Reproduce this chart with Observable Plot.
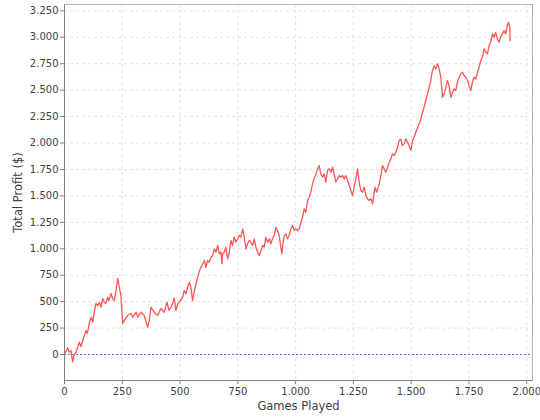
<!DOCTYPE html>
<html>
<head>
<meta charset="utf-8">
<script src="https://cdn.jsdelivr.net/npm/d3@7"></script>
<script src="https://cdn.jsdelivr.net/npm/@observablehq/plot@0.6"></script>
<style>
  html, body { margin: 0; padding: 0; background: #fff; }
  #chart { width: 540px; height: 420px; }
</style>
</head>
<body>
<div id="chart"></div>
<script>
const games = [0,14,20,28,35,41,50,58,64,71,79,84,93,99,107,115,122,129,136,144,151,158,165,172,179,187,192,201,208,215,223,230,237,244,247,252,259,273,288,295,310,317,331,345,360,367,374,388,403,417,
432,443,453,468,475,482,490,501,511,518,525,533,540,547,554,561,569,576,587,598,605,612,619,626,634,641,648,655,663,670,677,681,684,691,698,706,713,720,727,734,742,749,756,763,771,778,785,792,799,807,
814,821,828,836,843,850,857,864,871,879,886,893,900,907,915,922,929,936,941,944,951,958,965,972,980,987,994,1001,1009,1016,1023,1030,1037,1044,1052,1059,1066,1073,1080,1088,1095,1102,1109,1117,1124,1131,1138,1145,1153,1160,1167,1174,1181,1189,1196,
1203,1210,1217,1225,1232,1239,1246,1253,1261,1268,1275,1282,1290,1297,1304,1311,1318,1326,1333,1340,1344,1351,1362,1369,1376,1383,1390,1398,1405,1412,1419,1426,1434,1441,1448,1455,1462,1470,1477,1484,1491,1499,
1506,1513,1520,1528,1535,1542,1549,1556,1563,1571,1578,1585,1588,1592,1599,1607,1614,1621,1628,1636,1643,1650,1657,1664,1672,1679,1686,1693,1700,1708,1715,1722,1729,1736,1744,1751,1758,1765,1772,1780,1787,1794,
1801,1808,1816,1823,1830,1837,1844,1852,1859,1866,1873,1880,1887,1895,1902,1909,1916,1921,1927,1928];
const profit = [0,65,20,38,-70,-9,22,76,116,76,132,170,227,199,293,353,305,400,482,463,494,447,529,494,482,542,510,577,529,510,605,719,636,558,447,293,321,369,388,353,400,353,400,369,258,321,447,400,369,435,
400,494,416,479,536,416,479,510,542,605,574,636,684,636,510,589,668,731,810,858,889,825,889,873,920,936,999,967,1031,952,967,858,952,967,1015,905,967,1078,1031,1109,1062,1094,1125,1109,1188,1109,999,1047,1078,1062,
1031,1094,1015,967,936,983,1031,1015,1109,1062,1094,1047,1094,1125,1204,1172,1125,1015,952,1031,1125,1141,1094,1125,1188,1220,1172,1188,1172,1188,1251,1298,1377,1345,1456,1487,1535,1614,1661,1708,1756,1787,1708,1677,1708,1629,1740,1756,1724,1771,1708,1629,1661,1692,1677,
1692,1661,1692,1645,1598,1551,1503,1582,1661,1756,1629,1551,1535,1582,1503,1472,1456,1472,1425,1535,1582,1535,1614,1692,1787,1756,1724,1771,1818,1850,1897,1881,1913,1960,2023,2039,1976,1992,2039,2007,1976,1929,
2023,2055,2102,2149,2181,2228,2291,2338,2402,2465,2527,2591,2638,2685,2732,2701,2749,2701,2622,2433,2465,2527,2591,2543,2433,2480,2512,2496,2575,2622,2654,2669,2638,2622,2591,2543,2496,2575,2622,2606,2669,2717,
2780,2811,2890,2858,2843,2922,2953,3032,3000,3047,2984,2953,3000,3032,3063,3032,3110,3142,3095,2969];
const xTicks = [0,250,500,750,1000,1250,1500,1750,2000];
const yTicks = [0,250,500,750,1000,1250,1500,1750,2000,2250,2500,2750,3000,3250];
const xLabel = "Games Played";
const yLabel = "Total Profit ($)";

const data = games.map((g, i) => ({game: g, profit: profit[i]}));
const loc = d3.formatLocale({decimal: ",", thousands: ".", grouping: [3], currency: ["", "$"]});
const fmt = loc.format(",d");
const xDom = [0, 2025];
const yDom = [-246, 3310];
const font = "DejaVu Sans, sans-serif";

const chart = Plot.plot({
  width: 540,
  height: 420,
  marginLeft: 64,
  marginRight: 8,
  marginTop: 4,
  marginBottom: 40,
  style: {fontFamily: font, fontSize: "10px", color: "#404040", background: "#fff"},
  x: {domain: xDom},
  y: {domain: yDom},
  marks: [
    Plot.gridX(xTicks, {stroke: "#e2e2e2", strokeOpacity: 1, strokeDasharray: "3,3"}),
    Plot.gridY(yTicks, {stroke: "#e2e2e2", strokeOpacity: 1, strokeDasharray: "3,3"}),
    Plot.ruleY([0], {stroke: "#6a6aff", strokeDasharray: "2,2", strokeWidth: 1}),
    Plot.line(data, {x: "game", y: "profit", stroke: "#ff5555", strokeWidth: 1.3}),
    Plot.frame({stroke: "#b4b4b4"}),
    Plot.ruleX([xDom[0]], {stroke: "#808080"}),
    Plot.ruleY([yDom[0]], {stroke: "#808080"}),
    Plot.axisX(xTicks, {tickSize: 4, tickPadding: 3, tickFormat: fmt, label: null, stroke: "#808080", fill: "#404040", fontSize: 10}),
    Plot.axisY(yTicks, {tickSize: 4, tickPadding: 2, tickFormat: fmt, label: null, stroke: "#808080", fill: "#404040", fontSize: 10}),
    Plot.text([yLabel], {frameAnchor: "left", dx: -46, rotate: -90, fill: "#404040", fontSize: 11.5, textAnchor: "middle", lineAnchor: "middle"}),
    Plot.text([xLabel], {frameAnchor: "bottom", dy: 26, fill: "#404040", fontSize: 11.5, textAnchor: "middle", lineAnchor: "middle"})
  ]
});
document.getElementById("chart").appendChild(chart);
</script>
</body>
</html>
